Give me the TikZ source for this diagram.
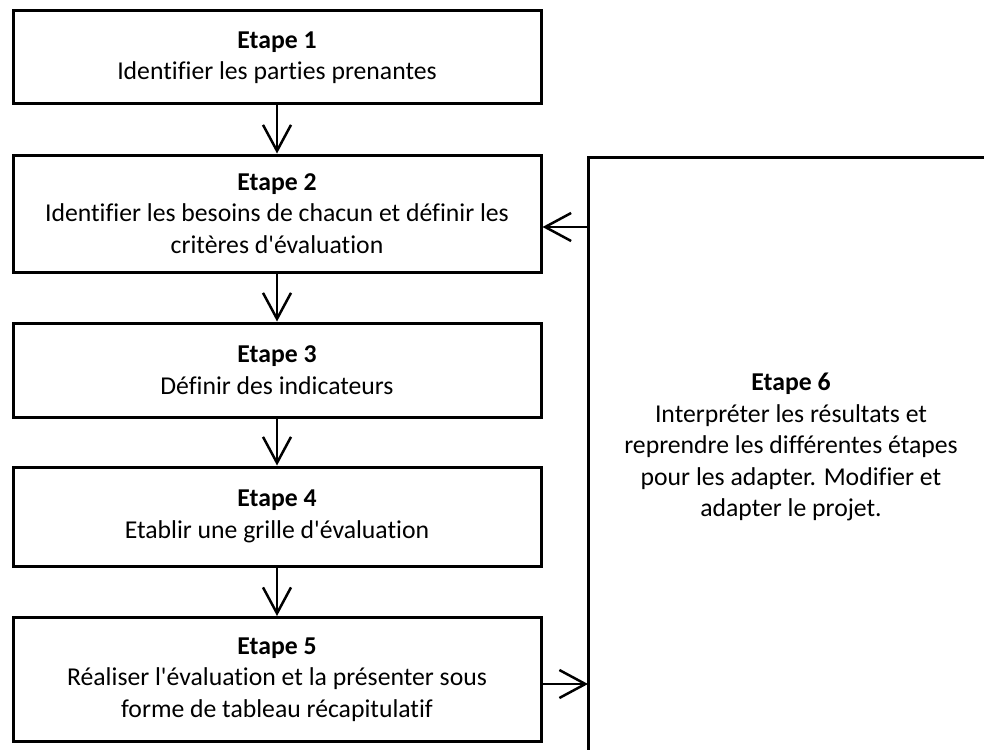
\documentclass[tikz,border=0pt]{standalone}
\usepackage{fontspec}
\setmainfont{Carlito}[Ligatures={NoCommon}]
\usetikzlibrary{arrows.meta}

\begin{document}
\begin{tikzpicture}[x=1pt,y=-1pt,
  etape/.style={shape=rectangle,draw=black,line width=3pt,minimum width=528pt,align=center,
    font=\fontsize{25.7}{31.5}\selectfont},
  flow/.style={line width=2.5pt,-{Straight Barb[length=26pt,width=28pt]}}]
\useasboundingbox (0,0) rectangle (984,749);
\node[etape,minimum height=93pt] (e1) at (277,57.5) {\textbf{Etape 1}\\Identifier les parties prenantes};
\node[etape,minimum height=117pt] (e2) at (277,213.5) {\textbf{Etape 2}\\Identifier les besoins de chacun et définir les\\critères d\textquotesingle évaluation};
\node[etape,minimum height=94pt] (e3) at (277,370) {\textbf{Etape 3}\\Définir des indicateurs};
\node[etape,minimum height=99pt] (e4) at (277,516.5) {\textbf{Etape 4}\\Etablir une grille d\textquotesingle évaluation};
\node[etape,minimum height=124pt] (e5) at (277,679.5) {\textbf{Etape 5}\\Réaliser l\textquotesingle évaluation et la présenter sous\\forme de tableau récapitulatif};
\draw[line width=3pt] (990,157) -- (588,157) -- (588,755);
\node[align=center,font=\fontsize{25.7}{31.5}\selectfont] (e6) at (791,447) {\textbf{Etape 6}\\Interpréter les résultats et\\reprendre les différentes étapes\\pour les adapter. Modifier et\\adapter le projet.};
\coordinate (r2) at (588,227);
\coordinate (r5) at (588,684);
\path [flow] (e1) edge (e2);
\path [flow] (e2) edge (e3);
\path [flow] (e3) edge (e4);
\path [flow] (e4) edge (e5);
\path [flow] (e5.east |- r5) edge (r5);
\path [flow] (r2) edge (r2 -| e2.east);
\end{tikzpicture}
\end{document}
